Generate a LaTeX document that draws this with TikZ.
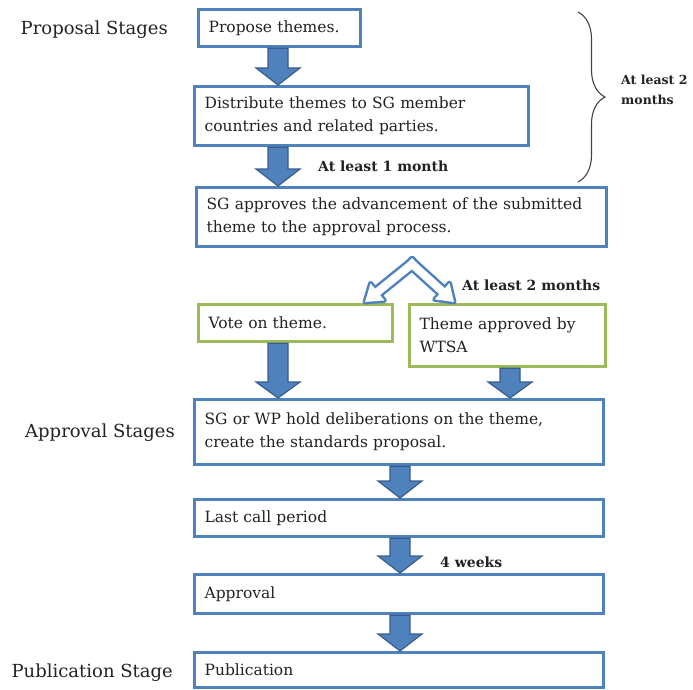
\documentclass[tikz,border=0pt]{standalone}
\usepackage{fontspec}
\setmainfont{DejaVu Serif}
\usetikzlibrary{positioning,calc,decorations.pathreplacing}

\definecolor{boxblue}{HTML}{4F81BD}
\definecolor{arrowline}{HTML}{385D8A}
\definecolor{boxgreen}{HTML}{9BBB59}
\definecolor{inktext}{HTML}{222222}

% block arrow: style, from, to, shaft half width, head half width, head length
\newcommand{\blockarrow}[6]{%
  \path[#1] let \p1=(#2), \p2=(#3),
      \n1={atan2(\y2-\y1,\x2-\x1)}, \n2={veclen(\x2-\x1,\y2-\y1)} in
    [shift={(\x1,\y1)}, rotate=\n1]
    (0,-#4) -- ({\n2-#6},-#4) -- ({\n2-#6},-#5) -- (\n2,0)
    -- ({\n2-#6},#5) -- ({\n2-#6},#4) -- (0,#4) -- cycle;}

\tikzset{
  stagebox/.style={draw=boxblue, line width=3.2pt, fill=white, anchor=north west,
    align=left, inner xsep=10pt, inner ysep=4pt,
    font=\fontsize{15.5}{23}\selectfont, text=inktext},
  votebox/.style={stagebox, draw=boxgreen},
  stagelabel/.style={font=\fontsize{18}{22}\selectfont, text=inktext, inner sep=0pt},
  timelabel/.style={font=\bfseries\fontsize{14}{20}\selectfont, text=inktext,
    anchor=west, inner sep=0pt, align=left},
  solidarrow/.style={fill=boxblue, draw=arrowline, line width=1.2pt, line join=miter},
  hollowedge/.style={draw=boxblue, line width=5pt, line join=round},
  hollowfill/.style={fill=white},
  bracemark/.style={draw=inktext!85, line width=1.1pt,
    decorate, decoration={brace, amplitude=27pt, aspect=0.5}},
}

\begin{document}
\begin{tikzpicture}[x=1pt, y=-1pt]
  \useasboundingbox (0,0) rectangle (693,690);

  % columns for the arrows
  \coordinate (colL) at (278,0);
  \coordinate (colM) at (400,0);
  \coordinate (colR) at (510,0);

  % boxes
  \node[stagebox, text width=142pt, minimum height=37pt] (prop) at (197,8) {Propose themes.};
  \node[stagebox, text width=314pt, minimum height=59pt] (dist) at (193,85)
    {Distribute themes to SG member\\countries and related parties.};
  \node[stagebox, text width=390pt, minimum height=59pt] (sgapp) at (195,186)
    {SG approves the advancement of the submitted\\theme to the approval process.};
  \node[votebox, text width=174pt, minimum height=37pt] (vote) at (197,303) {Vote on theme.};
  \node[votebox, text width=176pt, minimum height=62pt] (wtsa) at (408,303)
    {Theme approved by\\WTSA};
  \node[stagebox, text width=389pt, minimum height=65pt] (hold) at (193,398)
    {SG or WP hold deliberations on the theme,\\create the standards proposal.};
  \node[stagebox, text width=389pt, minimum height=37pt] (last) at (193,498) {Last call period};
  \node[stagebox, text width=389pt, minimum height=39pt] (appr) at (193,573) {Approval};
  \node[stagebox, text width=389pt, minimum height=35pt] (pub) at (193,651) {Publication};

  % stage labels
  \node[stagelabel, left=29pt of prop, yshift=-2pt] (lprop) {Proposal Stages};
  \node[stagelabel, left=18pt of hold, yshift=-1pt] (lappr) {Approval Stages};
  \node[stagelabel, left=20pt of pub, yshift=-3pt] (lpub) {Publication Stage};

  % arrows
  \blockarrow{solidarrow}{prop.south -| colL}{dist.north -| colL}{10}{22}{17}
  \blockarrow{solidarrow}{dist.south -| colL}{sgapp.north -| colL}{10}{22}{17}
  \blockarrow{solidarrow}{vote.south -| colL}{hold.north -| colL}{10}{22}{16}
  \blockarrow{solidarrow}{wtsa.south -| colR}{hold.north -| colR}{10}{22}{16}
  \blockarrow{solidarrow}{hold.south -| colM}{last.north -| colM}{10}{22}{17}
  \blockarrow{solidarrow}{last.south -| colM}{appr.north -| colM}{10}{22}{17}
  \blockarrow{solidarrow}{appr.south -| colM}{pub.north -| colM}{10}{22}{17}

  % split into the two routes
  \coordinate (split) at (412,264);
  \coordinate (tipL) at (365,302);
  \coordinate (tipR) at (454,302);
  \blockarrow{hollowedge}{$(split)!-4pt!(tipL)$}{tipL}{4}{11}{16}
  \blockarrow{hollowedge}{$(split)!-4pt!(tipR)$}{tipR}{4}{11}{16}
  \blockarrow{hollowfill}{$(split)!-4pt!(tipL)$}{tipL}{4}{11}{16}
  \blockarrow{hollowfill}{$(split)!-4pt!(tipR)$}{tipR}{4}{11}{16}

  % times
  \node[timelabel] (t1) at (318,166) {At least 1 month};
  \node[timelabel] (t2) at (462,285) {At least 2 months};
  \node[timelabel] (t3) at (440,562) {4 weeks};

  \coordinate (braceTop) at (578,12);
  \coordinate (braceBot) at (578,182);
  \draw[bracemark] (braceTop) -- (braceBot);
  \node[timelabel, font=\bfseries\fontsize{12.5}{20}\selectfont] (t4) at (621,90)
    {At least 2\\months};
\end{tikzpicture}
\end{document}
